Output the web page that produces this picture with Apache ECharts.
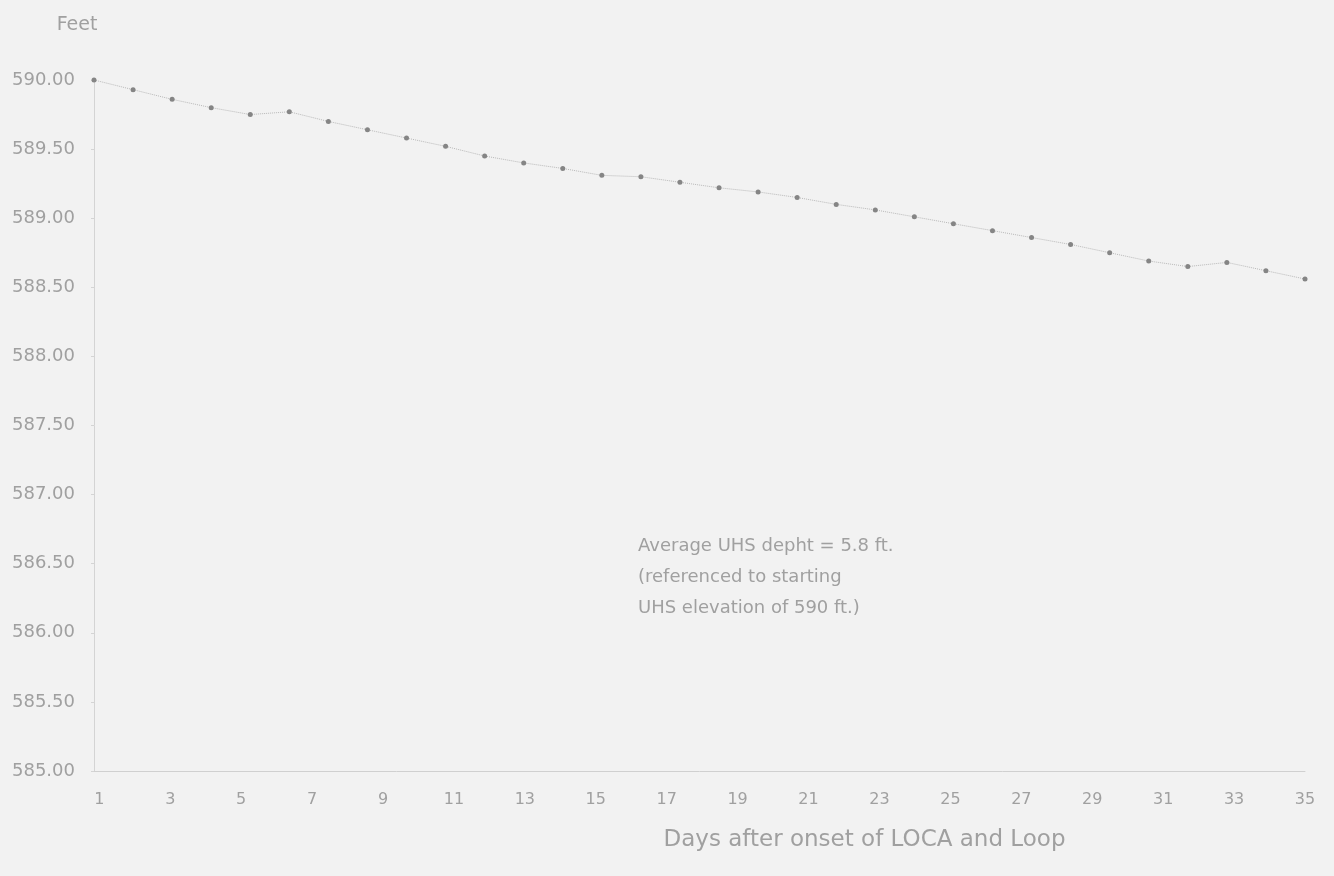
<!DOCTYPE html>
<html>
<head>
<meta charset="utf-8">
<title>UHS elevation after LOCA and LOOP</title>
<script src="https://cdn.jsdelivr.net/npm/echarts@6/dist/echarts.min.js"></script>
<style>
  html, body { margin: 0; padding: 0; background: #f2f2f2; }
  #chart { width: 1334px; height: 876px; }
</style>
</head>
<body>
<div id="chart"></div>
<script>
// Sample number of each plotted reading
const sampleIds = ['1','2','3','4','5','6','7','8','9','10','11','12','13','14','15','16',
                   '17','18','19','20','21','22','23','24','25','26','27','28','29','30','31','32'];

// UHS water surface elevation (ft) at each reading
const elevation = [590.00, 589.93, 589.86, 589.80, 589.75, 589.77, 589.70, 589.64,
                   589.58, 589.52, 589.45, 589.40, 589.36, 589.31, 589.30, 589.26,
                   589.22, 589.19, 589.15, 589.10, 589.06, 589.01, 588.96, 588.91,
                   588.86, 588.81, 588.75, 588.69, 588.65, 588.68, 588.62, 588.56];

// Day labels along the horizontal axis
const dayLabels = [1, 3, 5, 7, 9, 11, 13, 15, 17, 19, 21, 23, 25, 27, 29, 31, 33, 35];

// Note printed inside the plot
const noteLines = ['Average UHS depht = 5.8 ft.', '(referenced to starting', 'UHS elevation of 590 ft.)'];

const textColor = '#a0a0a0';
const font = '"DejaVu Sans", Arial, sans-serif';

const chart = echarts.init(document.getElementById('chart'));
chart.setOption({
  backgroundColor: '#f2f2f2',
  animation: false,
  grid: { left: 94, right: 29, top: 80, bottom: 105 },
  xAxis: [
    {
      type: 'category',
      data: sampleIds,
      boundaryGap: false,
      axisLine: { show: true, lineStyle: { color: '#d0d0d0', width: 1 } },
      axisTick: { show: false },
      axisLabel: { show: false },
      splitLine: { show: false }
    },
    {
      type: 'value',
      position: 'bottom',
      min: 0.85,
      max: 35,
      axisLine: { show: false },
      axisTick: { show: false, customValues: dayLabels },
      splitLine: { show: false },
      axisLabel: {
        customValues: dayLabels,
        color: textColor,
        fontFamily: font,
        fontSize: 16,
        margin: 21
      },
      name: 'Days after onset of LOCA and Loop',
      nameLocation: 'middle',
      nameGap: 58,
      nameTextStyle: { color: textColor, fontFamily: font, fontSize: 23, padding: [0, 0, 0, 330] }
    }
  ],
  yAxis: {
    type: 'value',
    min: 585,
    max: 590,
    interval: 0.5,
    name: 'Feet',
    nameLocation: 'end',
    nameGap: 55,
    nameTextStyle: { color: textColor, fontFamily: font, fontSize: 19, align: 'center', verticalAlign: 'middle', padding: [0, 34, 0, 0] },
    axisLine: { show: true, lineStyle: { color: '#d4d4d4', width: 1 } },
    axisTick: { show: true, length: 3, lineStyle: { color: '#d4d4d4' } },
    splitLine: { show: false },
    axisLabel: {
      color: textColor,
      fontFamily: font,
      fontSize: 18,
      margin: 19,
      formatter: v => v.toFixed(2)
    }
  },
  series: [{
    type: 'line',
    xAxisIndex: 0,
    data: elevation,
    symbol: 'circle',
    symbolSize: 5,
    itemStyle: { color: '#858585' },
    lineStyle: { color: '#b8b8b8', width: 1, type: 'dotted' }
  }],
  graphic: [{
    type: 'text',
    left: 638,
    top: 531,
    style: {
      text: noteLines.join('\n'),
      fill: textColor,
      font: '18px ' + font,
      lineHeight: 31
    }
  }]
});
</script>
</body>
</html>
